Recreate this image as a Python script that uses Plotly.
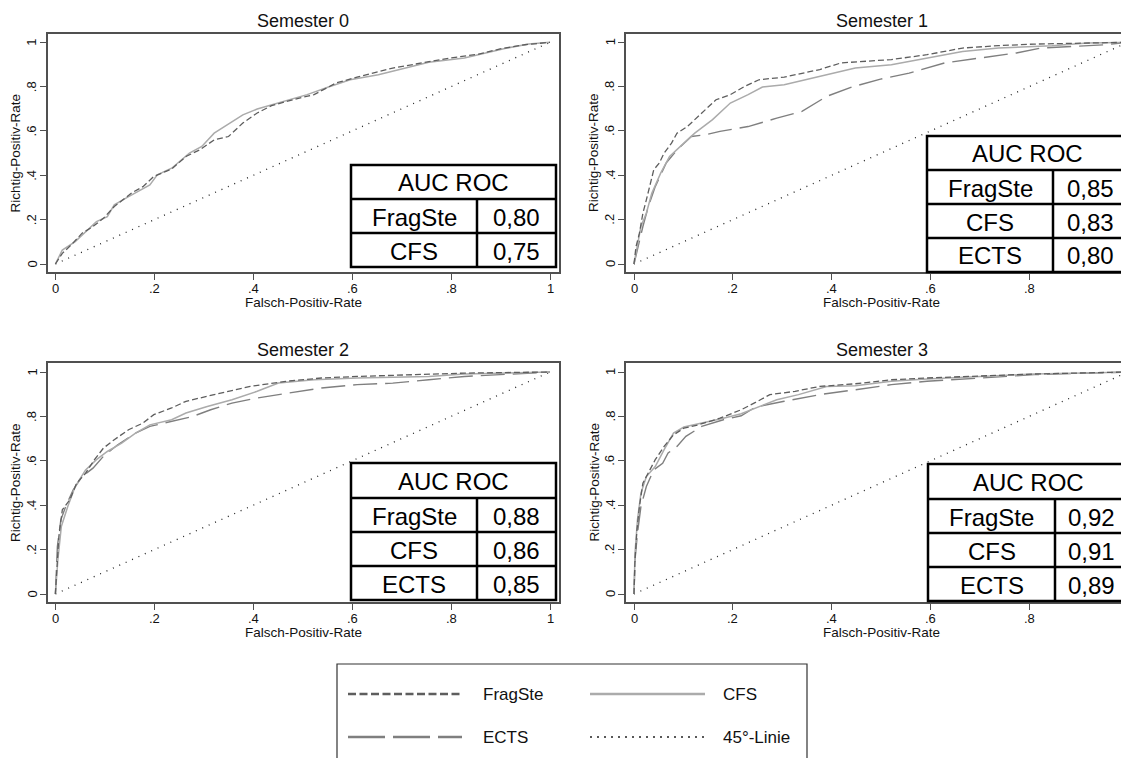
import plotly.graph_objects as go

# ---------------- data ----------------
semesters = ["Semester 0", "Semester 1", "Semester 2", "Semester 3"]
tick_vals = [0, 0.2, 0.4, 0.6, 0.8, 1]
tick_text = ["0", ".2", ".4", ".6", ".8", "1"]

# Semester 0
s0_fragste_x = [0, .014, .032, .054, .076, .097, .119, .155, .177, .199, .235, .264, .292, .321, .350, .379, .408, .437, .480, .523, .567, .610, .682, .755, .798, .856, .899, .949, 1]
s0_fragste_y = [0, .048, .086, .139, .169, .206, .259, .322, .349, .395, .428, .485, .515, .560, .575, .636, .681, .714, .741, .764, .816, .843, .884, .914, .929, .947, .970, .989, 1]
s0_cfs_x = [0, .014, .040, .065, .083, .105, .119, .148, .191, .206, .235, .271, .296, .321, .343, .379, .408, .451, .509, .552, .596, .653, .697, .755, .827, .870, .913, .957, 1]
s0_cfs_y = [0, .063, .101, .154, .191, .214, .267, .304, .357, .402, .432, .500, .530, .590, .623, .673, .699, .726, .764, .798, .831, .854, .877, .910, .929, .952, .974, .992, 1]

# Semester 1
s1_fragste_x = [0, .004, .011, .018, .025, .033, .040, .051, .061, .076, .087, .108, .137, .166, .195, .224, .253, .304, .376, .419, .521, .593, .665, .738, .810, .904, 1]
s1_fragste_y = [0, .078, .139, .229, .289, .364, .425, .455, .500, .545, .590, .620, .681, .741, .764, .801, .831, .843, .877, .907, .922, .944, .974, .985, .992, .997, 1]
s1_cfs_x = [0, .007, .014, .025, .036, .054, .072, .101, .123, .159, .195, .231, .260, .304, .376, .448, .521, .593, .665, .738, .846, .918, 1]
s1_cfs_y = [0, .093, .169, .229, .319, .410, .485, .545, .590, .651, .726, .764, .798, .809, .846, .884, .899, .929, .959, .974, .985, .997, 1]
s1_ects_x = [0, .007, .018, .029, .043, .065, .087, .116, .145, .174, .231, .289, .340, .390, .441, .499, .557, .629, .701, .774, .824, .897, .954, 1]
s1_ects_y = [0, .071, .169, .259, .349, .455, .515, .575, .583, .598, .620, .658, .688, .756, .798, .834, .861, .907, .929, .952, .974, .982, .989, 1]

# Semester 2
s2_fragste_x = [0, .004, .007, .014, .029, .043, .061, .079, .097, .119, .148, .177, .199, .235, .264, .321, .394, .466, .538, .610, .718, .827, 1]
s2_fragste_y = [0, .183, .259, .379, .424, .499, .544, .605, .657, .695, .740, .770, .808, .838, .868, .898, .935, .958, .973, .980, .988, .995, 1]
s2_cfs_x = [0, .005, .012, .025, .040, .061, .083, .105, .134, .162, .191, .235, .264, .307, .357, .408, .451, .523, .610, .755, .827, .935, 1]
s2_cfs_y = [0, .153, .304, .394, .484, .559, .605, .642, .680, .725, .762, .785, .815, .845, .875, .913, .950, .965, .973, .980, .991, .995, 1]
s2_ects_x = [0, .004, .011, .022, .036, .054, .076, .097, .126, .162, .191, .235, .278, .314, .357, .408, .466, .538, .610, .682, .755, .827, .899, 1]
s2_ects_y = [0, .214, .334, .401, .469, .529, .567, .620, .672, .725, .755, .777, .800, .830, .860, .883, .902, .928, .943, .950, .965, .980, .988, 1]

# Semester 3
s3_fragste_x = [0, .002, .006, .011, .018, .029, .043, .061, .080, .101, .130, .174, .217, .246, .275, .326, .376, .448, .521, .593, .701, .810, 1]
s3_fragste_y = [0, .153, .289, .394, .499, .544, .605, .665, .717, .747, .762, .792, .830, .863, .898, .913, .935, .947, .965, .973, .983, .991, 1]
s3_cfs_x = [0, .002, .007, .014, .025, .043, .061, .080, .101, .145, .181, .217, .246, .289, .333, .390, .448, .521, .593, .665, .810, 1]
s3_cfs_y = [0, .183, .334, .454, .529, .574, .650, .725, .752, .773, .792, .812, .838, .875, .898, .935, .938, .958, .968, .976, .991, 1]
s3_ects_x = [0, .002, .007, .014, .025, .040, .058, .069, .087, .105, .137, .181, .217, .246, .304, .376, .448, .521, .593, .701, .810, 1]
s3_ects_y = [0, .153, .274, .394, .484, .559, .589, .635, .665, .710, .755, .785, .803, .842, .868, .898, .920, .943, .958, .973, .988, 1]

diag_x = [0, 1]
diag_y = [0, 1]

# AUC tables
auc_labels = [["FragSte", "CFS"], ["FragSte", "CFS", "ECTS"], ["FragSte", "CFS", "ECTS"], ["FragSte", "CFS", "ECTS"]]
auc_values = [["0,80", "0,75"], ["0,85", "0,83", "0,80"], ["0,88", "0,86", "0,85"], ["0,92", "0,91", "0,89"]]

curves = [
    {"FragSte": (s0_fragste_x, s0_fragste_y), "CFS": (s0_cfs_x, s0_cfs_y)},
    {"FragSte": (s1_fragste_x, s1_fragste_y), "CFS": (s1_cfs_x, s1_cfs_y), "ECTS": (s1_ects_x, s1_ects_y)},
    {"FragSte": (s2_fragste_x, s2_fragste_y), "CFS": (s2_cfs_x, s2_cfs_y), "ECTS": (s2_ects_x, s2_ects_y)},
    {"FragSte": (s3_fragste_x, s3_fragste_y), "CFS": (s3_cfs_x, s3_cfs_y), "ECTS": (s3_ects_x, s3_ects_y)},
]

# ---------------- style ----------------
W, H = 1129, 758
OFF = 8  # default page body margin
FONT = "Liberation Sans, Arial, sans-serif"
styles = {
    "FragSte": dict(color="#5e5e5e", dash="6px,3px", width=1.3),
    "CFS": dict(color="#ababab", dash="solid", width=1.5),
    "ECTS": dict(color="#7f7f7f", dash="24px,8px", width=1.4),
    "45°-Linie": dict(color="#222222", dash="1px,6px", width=1.3),
}
legend_dash = {"FragSte": "8px,3.5px", "CFS": "solid", "ECTS": "37px,8px", "45°-Linie": "2px,5px"}
FRAME = "#505050"

panels = [
    dict(fl=47.5, fr=559, ft=34, fb=272, px0=55.4, px1=550, py1=42.3, py0=264),
    dict(fl=626, fr=1137, ft=34, fb=272, px0=634, px1=1128, py1=42.3, py0=264),
    dict(fl=47.5, fr=559, ft=363, fb=602, px0=55.4, px1=550, py1=372, py0=594),
    dict(fl=626, fr=1137, ft=363, fb=602, px0=634, px1=1128, py1=372, py0=594),
]
tables = [
    dict(l=351, r=556, t=165, rows=[199, 233, 267], div=477),
    dict(l=927, r=1128, t=136, rows=[170, 204, 238, 272], div=1053),
    dict(l=351, r=556, t=463, rows=[498, 532, 566, 600], div=477),
    dict(l=928, r=1128, t=464, rows=[499, 533, 567, 601], div=1055),
]

def px(x):
    return (x - OFF) / W

def py(y):
    return 1 - (y - OFF) / H

fig = go.Figure()
shapes = []
annotations = []
tickfont = dict(family=FONT, size=13, color="#111")

for i, p in enumerate(panels):
    sfx = "" if i == 0 else str(i + 1)
    xref = "x" + sfx
    yref = "y" + sfx
    right_panel = i in (1, 3)
    fr_draw = min(p["fr"], W + OFF)
    ux = (p["px1"] - p["px0"])
    uy = (p["py0"] - p["py1"])
    xr = [(p["fl"] - p["px0"]) / ux, (fr_draw - p["px0"]) / ux]
    yr = [-(p["fb"] - p["py0"]) / uy, 1 + (p["py1"] - p["ft"]) / uy]

    st = styles["45°-Linie"]
    fig.add_trace(go.Scatter(x=diag_x, y=diag_y, mode="lines", xaxis=xref, yaxis=yref,
                             line=dict(color=st["color"], dash=st["dash"], width=st["width"]),
                             showlegend=False, hoverinfo="skip"))
    for name in ["ECTS", "CFS", "FragSte"]:
        if name in curves[i]:
            cx, cy = curves[i][name]
            st = styles[name]
            fig.add_trace(go.Scatter(x=cx, y=cy, mode="lines", xaxis=xref, yaxis=yref, name=name,
                                     line=dict(color=st["color"], dash=st["dash"], width=st["width"]),
                                     showlegend=False))

    xa = dict(domain=[px(p["fl"]), px(fr_draw)], range=xr, anchor=yref,
              tickvals=tick_vals, showticklabels=False, ticks="outside", ticklen=6,
              tickcolor=FRAME, showline=True, linecolor=FRAME, linewidth=1.5, mirror=True,
              showgrid=False, zeroline=False, fixedrange=True)
    ya = dict(domain=[py(p["fb"]), py(p["ft"])], range=yr, anchor=xref,
              tickvals=tick_vals, showticklabels=False, ticks="outside", ticklen=6,
              tickcolor=FRAME, showline=True, linecolor=FRAME, linewidth=1.5,
              mirror=(not right_panel),
              showgrid=False, zeroline=False, fixedrange=True)
    fig.update_layout(**{"xaxis" + sfx: xa, "yaxis" + sfx: ya})

    # tick labels placed at the axis values
    for v, tt in zip(tick_vals, tick_text):
        annotations.append(dict(x=v, xref=xref, y=py(p["fb"] + 16.5), yref="paper", text=tt,
                                showarrow=False, xanchor="center", yanchor="middle", font=tickfont))
        annotations.append(dict(x=px(p["fl"] - 16), xref="paper", y=v, yref=yref, text=tt,
                                showarrow=False, xanchor="center", yanchor="middle", textangle=-90,
                                font=tickfont))

    cx_pix = (p["fl"] + p["fr"]) / 2
    annotations.append(dict(x=px(cx_pix), y=py(p["ft"] - 13), xref="paper", yref="paper",
                            text=semesters[i], showarrow=False, xanchor="center", yanchor="middle",
                            font=dict(family=FONT, size=18, color="#111")))
    annotations.append(dict(x=px(cx_pix), y=py(p["fb"] + 30.5), xref="paper", yref="paper",
                            text="Falsch-Positiv-Rate", showarrow=False, xanchor="center", yanchor="middle",
                            font=dict(family=FONT, size=13.5, color="#111")))
    annotations.append(dict(x=px(p["fl"] - 32), y=py((p["ft"] + p["fb"]) / 2), xref="paper", yref="paper",
                            text="Richtig-Positiv-Rate", showarrow=False, textangle=-90,
                            xanchor="center", yanchor="middle",
                            font=dict(family=FONT, size=13.5, color="#111")))

    # AUC table
    t = tables[i]
    lw = 2.5
    bounds = t["rows"]
    shapes.append(dict(type="rect", xref="paper", yref="paper", layer="above",
                       x0=px(t["l"]), x1=px(t["r"]), y0=py(bounds[-1]), y1=py(t["t"]),
                       fillcolor="white", line=dict(color="black", width=lw)))
    for rb in bounds[:-1]:
        shapes.append(dict(type="line", xref="paper", yref="paper", layer="above",
                           x0=px(t["l"]), x1=px(t["r"]), y0=py(rb), y1=py(rb),
                           line=dict(color="black", width=lw)))
    shapes.append(dict(type="line", xref="paper", yref="paper", layer="above",
                       x0=px(t["div"]), x1=px(t["div"]), y0=py(bounds[0]), y1=py(bounds[-1]),
                       line=dict(color="black", width=lw)))
    annotations.append(dict(x=px((t["l"] + t["r"]) / 2), y=py((t["t"] + bounds[0]) / 2 + 1),
                            xref="paper", yref="paper", text="AUC ROC", showarrow=False,
                            xanchor="center", yanchor="middle", font=dict(family=FONT, size=24, color="black")))
    for k, (lab, val) in enumerate(zip(auc_labels[i], auc_values[i])):
        yc = (bounds[k] + bounds[k + 1]) / 2 + 1
        annotations.append(dict(x=px((t["l"] + t["div"]) / 2), y=py(yc), xref="paper", yref="paper",
                                text=lab, showarrow=False, xanchor="center", yanchor="middle",
                                font=dict(family=FONT, size=24, color="black")))
        annotations.append(dict(x=px((t["div"] + t["r"]) / 2), y=py(yc), xref="paper", yref="paper",
                                text=val, showarrow=False, xanchor="center", yanchor="middle",
                                font=dict(family=FONT, size=24, color="black")))

# ---------------- legend (drawn manually) ----------------
shapes.append(dict(type="rect", xref="paper", yref="paper", x0=px(337), x1=px(807), y0=py(775), y1=py(664),
                   line=dict(color="#333", width=1.2), fillcolor="rgba(0,0,0,0)"))
legend_items = [("FragSte", 348, 462, 481, 694), ("CFS", 590, 705, 721, 694),
                ("ECTS", 348, 462, 481, 737), ("45°-Linie", 590, 705, 721, 737)]
for name, x0, x1, tx, yy in legend_items:
    st = styles[name]
    shapes.append(dict(type="line", xref="paper", yref="paper", x0=px(x0), x1=px(x1), y0=py(yy), y1=py(yy),
                       line=dict(color=st["color"], dash=legend_dash[name],
                                 width=2.6 if name != "45°-Linie" else 1.6)))
    annotations.append(dict(x=px(tx), y=py(yy), xref="paper", yref="paper", text=name, showarrow=False,
                            xanchor="left", yanchor="middle", font=dict(family=FONT, size=17, color="#111")))

fig.update_layout(width=W, height=H, margin=dict(l=0, r=0, t=0, b=0),
                  paper_bgcolor="white", plot_bgcolor="white", showlegend=False,
                  shapes=shapes, annotations=annotations)

fig.write_html("out.html", config={"displayModeBar": False})
